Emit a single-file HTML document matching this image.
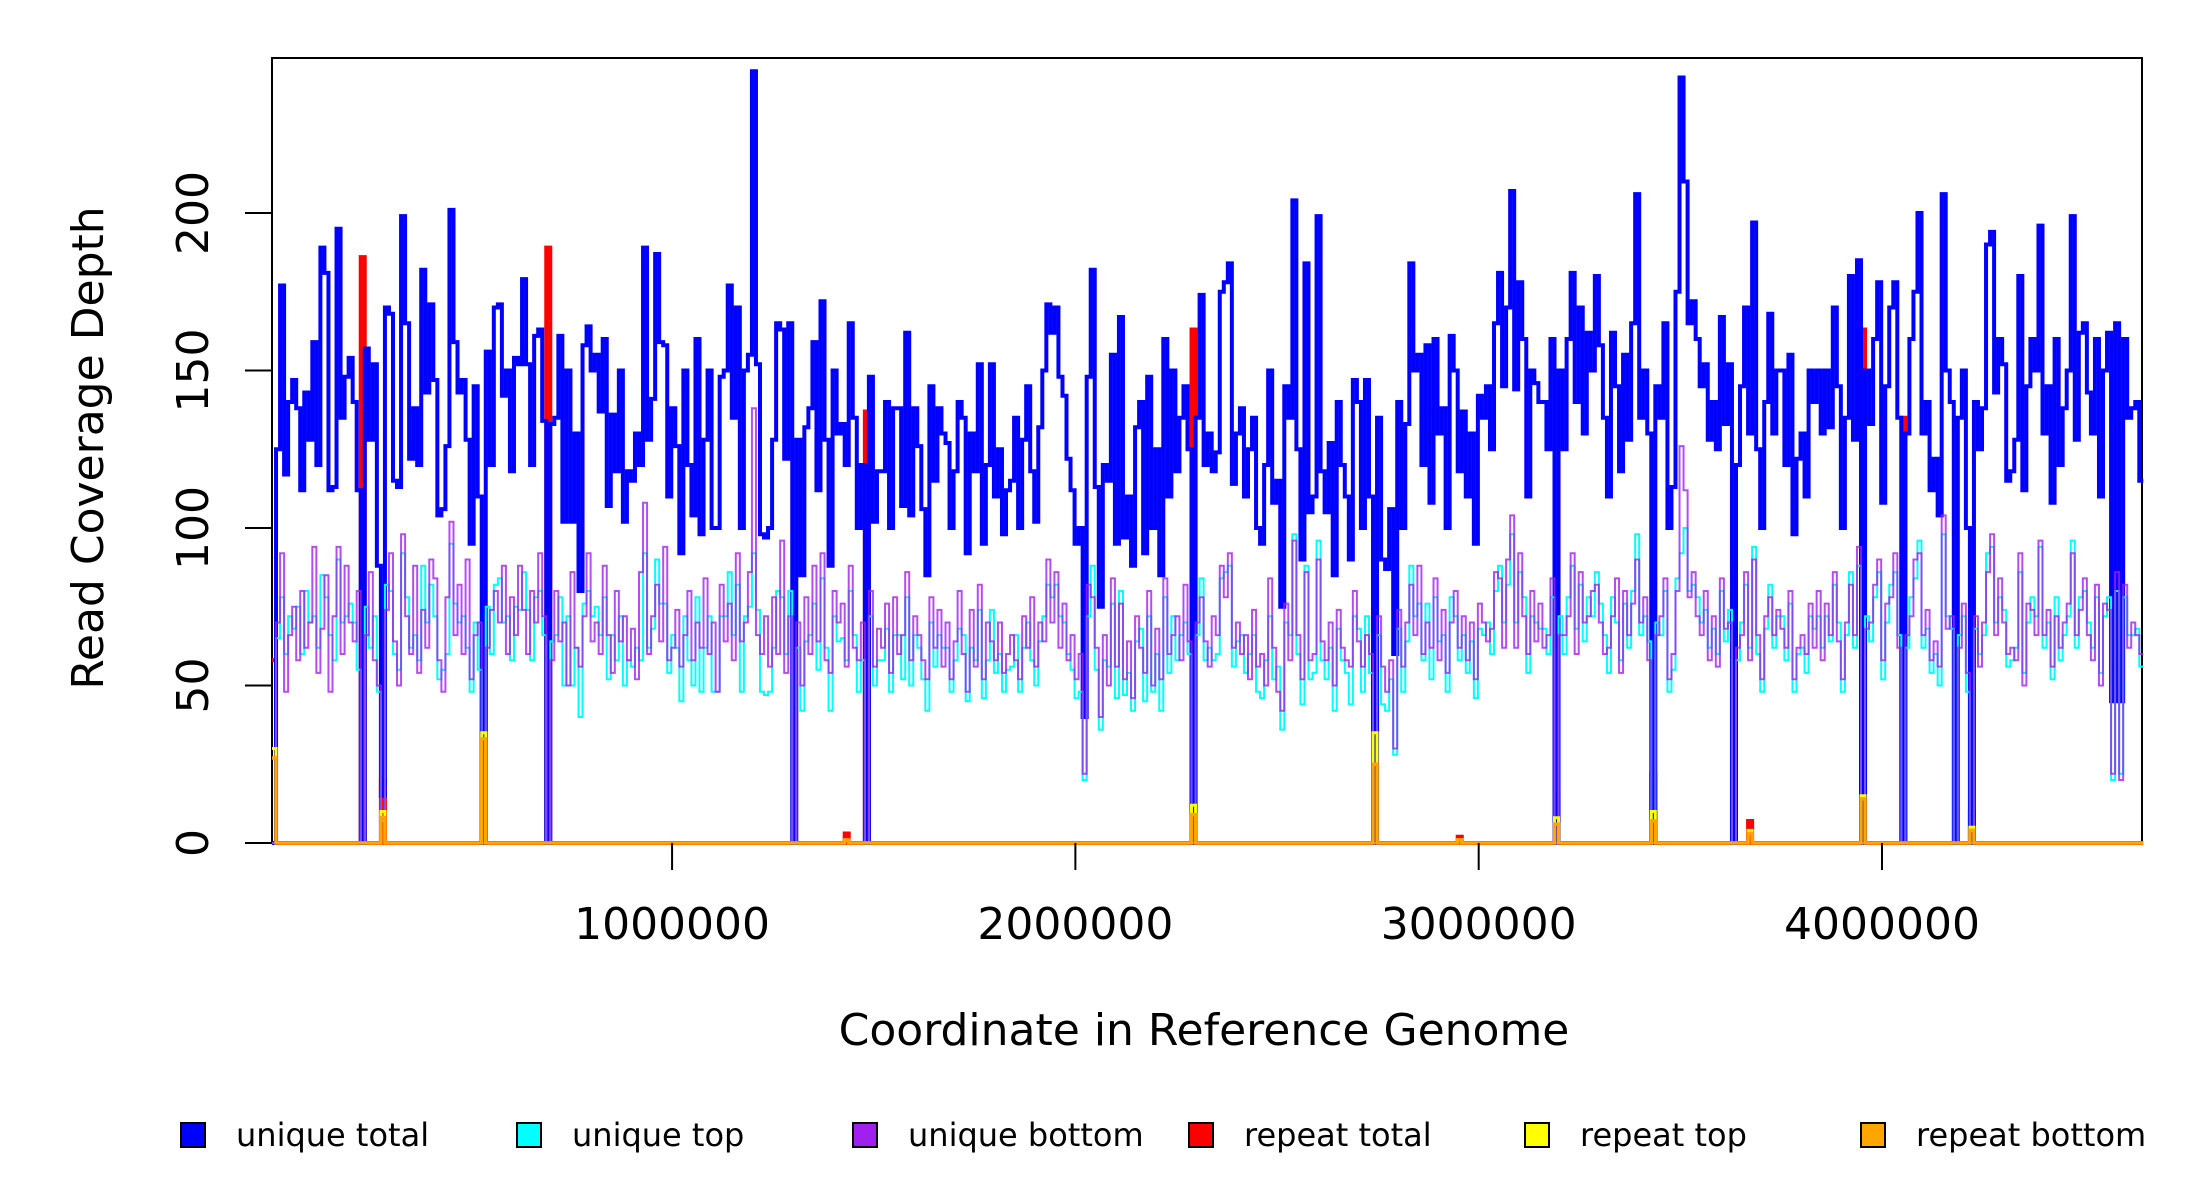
<!DOCTYPE html>
<html><head><meta charset="utf-8"><style>
html,body{margin:0;padding:0;background:#fff;}
svg{display:block;font-family:"DejaVu Sans","Liberation Sans",sans-serif;}
</style></head><body>
<svg id="chart" width="2200" height="1200" viewBox="0 0 2200 1200">
<rect width="2200" height="1200" fill="#fff"/>
<rect x="272" y="58" width="1870" height="785" fill="none" stroke="#000" stroke-width="2"/>
<g id="series"></g>
<g id="axes"></g>
<text x="1204" y="1045" font-size="44" text-anchor="middle">Coordinate in Reference Genome</text>
<text transform="translate(103,448) rotate(-90)" font-size="44" text-anchor="middle">Read Coverage Depth</text>
<g id="legend"></g>
</svg>
<script>
const binSize = 10000;
const binOrigin = 8000;
const uniqueTotal = [
0,125,177,117,140,147,138,112,143,128,159,120,189,181,112,113,195,135,148,154,
140,112,0,157,128,152,88,15,170,168,115,113,199,165,122,138,120,182,143,171,
147,104,106,126,201,159,143,147,128,95,145,110,0,156,120,170,171,142,150,118,
154,152,179,152,120,161,163,134,0,133,135,161,102,150,102,130,80,158,164,150,
155,137,160,107,136,118,150,102,118,115,130,120,189,128,141,187,159,158,110,138,
126,92,150,120,104,160,98,128,150,100,100,148,150,177,135,170,100,150,155,245,
152,98,97,100,128,165,163,122,165,0,128,85,132,138,159,112,172,128,88,150,
130,133,120,165,135,100,120,0,148,102,118,118,140,100,138,138,107,162,104,138,
126,106,85,145,115,138,130,127,100,118,140,135,92,130,118,152,95,120,152,110,
125,98,112,115,135,100,128,145,118,102,132,150,171,162,170,148,142,122,112,95,
100,40,148,182,113,75,120,115,155,95,167,97,110,88,132,140,92,148,100,125,
85,160,110,150,118,135,145,125,0,135,174,120,130,118,124,175,178,184,114,130,
138,110,125,135,100,95,120,150,108,115,75,145,135,204,125,90,184,105,110,199,
118,105,127,85,140,120,110,90,147,140,100,147,110,0,135,90,87,106,60,140,
100,133,184,150,155,120,158,108,160,130,138,100,161,150,118,137,110,130,95,142,
135,145,125,165,181,145,170,207,144,178,160,110,150,146,140,140,125,160,0,150,
125,160,181,140,170,130,162,150,180,158,135,110,162,145,118,155,128,165,206,135,
150,130,0,145,135,165,100,113,175,243,210,165,172,160,145,152,128,140,125,167,
133,152,0,120,145,170,130,197,125,100,140,168,130,150,150,120,155,98,122,130,
110,150,140,150,130,150,132,170,145,100,135,180,128,185,0,150,133,160,178,108,
145,170,178,135,0,130,160,175,200,130,140,112,122,104,206,150,140,0,135,150,
100,0,140,125,138,190,194,143,160,152,115,118,128,180,112,145,160,150,196,130,
145,108,160,120,138,150,199,128,162,165,143,130,160,110,150,162,45,165,45,160,
135,138,140,115];
const uniqueTop = [
0,65,78,60,72,68,75,60,80,70,72,62,85,78,66,58,90,70,72,76,
70,55,0,75,62,72,48,7,82,80,60,55,92,78,62,66,58,88,70,82,
72,52,55,60,95,76,70,72,62,48,70,55,0,75,60,82,84,70,72,58,
75,74,86,74,58,78,80,66,0,64,66,78,50,72,50,62,40,76,80,72,
75,66,78,52,66,58,72,50,58,56,62,58,92,62,68,90,76,76,54,66,
62,45,72,58,50,78,48,62,72,48,48,72,72,86,66,82,48,72,75,92,
74,48,47,48,62,80,78,60,80,0,62,42,64,66,76,55,84,62,42,72,
64,65,58,80,66,48,58,0,72,50,58,58,68,48,66,66,52,78,50,66,
62,52,42,70,56,66,62,62,48,58,68,66,45,62,58,74,46,58,74,54,
60,48,55,56,66,48,62,70,58,50,64,72,82,78,82,72,70,60,55,46,
48,20,72,88,55,36,58,56,76,46,80,47,54,42,64,68,45,72,48,60,
42,78,54,72,58,66,70,60,0,66,84,58,62,58,60,84,86,88,56,64,
66,54,60,66,48,46,58,72,52,56,36,70,66,98,60,44,88,52,54,96,
58,52,62,42,68,58,54,44,72,68,48,72,54,0,66,44,42,52,28,68,
48,64,88,72,76,58,76,52,78,64,66,48,78,72,58,66,54,64,46,68,
66,70,60,80,88,70,82,98,70,86,78,54,72,70,68,68,60,78,0,72,
60,78,88,68,82,64,78,72,86,76,66,54,78,70,58,76,62,80,98,66,
72,64,0,70,66,80,48,55,84,92,100,80,82,78,70,74,62,68,60,80,
64,74,0,58,70,82,62,94,60,48,68,82,62,72,72,58,76,48,60,62,
54,72,68,72,62,72,64,82,70,48,66,86,62,88,0,72,64,78,86,52,
70,82,86,66,0,62,78,84,96,62,68,54,60,50,98,72,68,0,66,72,
48,0,68,60,66,92,94,70,78,74,56,58,62,86,54,70,78,72,94,62,
70,52,78,58,66,72,96,62,78,80,70,62,78,54,72,78,20,80,22,78,
66,66,68,56];
const uniqueBottom = [
0,70,92,48,66,75,58,80,62,70,94,54,68,85,48,72,94,60,88,70,
64,80,0,66,86,58,50,8,74,92,64,50,98,72,60,88,54,74,62,90,
84,58,48,78,102,66,82,60,90,52,66,70,0,62,74,80,70,88,60,78,
66,88,74,60,80,70,92,72,0,58,80,64,70,50,86,62,56,72,92,64,
70,60,88,66,54,80,64,72,58,68,52,86,108,60,72,82,64,94,58,62,
74,56,66,80,58,70,62,84,60,70,48,82,64,76,58,92,64,70,86,138,
66,60,72,56,78,60,96,54,72,0,70,50,78,60,88,64,92,58,54,80,
70,76,56,88,62,58,70,0,80,56,68,62,76,54,78,60,66,86,58,72,
66,58,52,78,62,74,56,70,52,64,80,60,48,74,56,82,52,70,64,58,
70,54,60,66,58,52,72,62,78,56,70,64,90,70,86,62,76,58,66,52,
60,22,82,78,62,40,66,50,84,56,76,52,64,46,72,62,54,80,50,68,
52,84,60,66,72,58,82,64,0,70,78,64,56,72,66,88,78,92,62,70,
60,66,52,74,56,60,50,84,62,48,42,76,58,96,66,52,86,58,60,90,
64,58,70,50,74,62,58,56,80,64,56,66,60,0,72,56,48,58,30,74,
56,70,82,66,88,60,70,62,84,58,74,54,70,80,62,72,58,70,52,76,
70,64,68,86,84,62,90,104,62,92,72,60,80,64,76,62,66,84,0,66,
66,72,92,60,86,70,72,80,82,70,60,62,72,84,54,80,66,76,90,70,
78,58,0,66,72,84,52,60,80,126,112,78,86,72,66,80,58,72,56,84,
68,70,0,62,66,86,58,90,66,52,72,78,66,74,68,62,80,52,62,66,
60,76,62,80,58,76,66,86,64,52,70,82,66,94,0,68,70,82,90,58,
76,78,92,62,0,66,72,90,92,66,74,58,64,56,104,68,72,0,62,76,
54,0,72,56,70,86,98,66,84,70,60,62,58,92,50,76,74,66,96,66,
74,56,72,62,70,76,92,66,74,84,66,58,82,50,76,74,22,86,20,82,
62,70,66,60];
const repeatBins   = [0, 22, 27, 52, 68, 142, 147, 228, 273, 294, 318, 342, 366, 394, 404, 421];
const repeatTotal  = [58,186,20, 70,189, 3, 137, 163, 60, 2, 15, 22, 7, 163, 135, 10];
const repeatTop    = [30, 0, 10, 35, 0, 1, 0, 12, 35, 1, 8, 10, 4, 15, 0, 5];
const repeatBottom = [27, 0, 8, 33, 0, 1, 0, 9, 25, 1, 6, 7, 3, 14, 0, 4];
const yTicks = [0, 50, 100, 150, 200];
const xTicks = [1000000, 2000000, 3000000, 4000000];
const xTickLabels = ["1000000", "2000000", "3000000", "4000000"];
const legendLabels = ["unique total", "unique top", "unique bottom", "repeat total", "repeat top", "repeat bottom"];
const legendColors = ["#0000ff", "#00ffff", "#a020f0", "#ff0000", "#ffff00", "#ffa500"];

const NS = "http://www.w3.org/2000/svg";
const PL = 272, PR = 2142, PT = 58, PB = 843;
const xMin = 8000, xMax = 4644700, yMin = 0, yMax = 200;
function xs(v){ return PL + (v - xMin) / (xMax - xMin) * (PR - PL); }
function ys(v){ return PB - (v - yMin) / (yMax - yMin) * (PB - 213); }
function mk(tag, attrs, parent){ const e = document.createElementNS(NS, tag); for (const k in attrs) e.setAttribute(k, attrs[k]); parent.appendChild(e); return e; }

function expand(bins, vals, n){ const a = new Array(n).fill(0); bins.forEach((b, i) => { a[b] = vals[i]; }); return a; }
function stepPath(vals){
  let d = "";
  for (let i = 0; i < vals.length; i++){
    const x0 = xs(binOrigin + i * binSize).toFixed(2), x1 = xs(binOrigin + (i + 1) * binSize).toFixed(2), y = ys(vals[i]).toFixed(2);
    d += (i === 0 ? "M" + x0 + "," + y : "V" + y) + "H" + x1;
  }
  return d;
}
const n = uniqueTotal.length;
const seriesG = document.getElementById("series");
const layers = [
  ["repeat-total-line", expand(repeatBins, repeatTotal, n), "#ff0000", 4, 1],
  ["unique-total-line", uniqueTotal, "#0000ff", 4, 1],
  ["unique-top-line", uniqueTop, "#00ffff", 2, 1],
  ["unique-bottom-line", uniqueBottom, "#a020f0", 2, 0.8],
  ["repeat-top-line", expand(repeatBins, repeatTop, n), "#ffff00", 3, 1],
  ["repeat-bottom-line", expand(repeatBins, repeatBottom, n), "#ffa500", 3.5, 1]
];
layers.forEach(l => {
  const p = mk("path", {d: stepPath(l[1]), fill: "none", stroke: l[2], "stroke-width": l[3], "stroke-opacity": l[4], "stroke-linejoin": "miter"}, seriesG);
  
  
});

const axesG = document.getElementById("axes");
yTicks.forEach(v => {
  const t = mk("line", {x1: 245, x2: 272, y1: ys(v), y2: ys(v), stroke: "#000", "stroke-width": 2}, axesG);
  
  
  const tx = mk("text", {transform: "translate(208," + ys(v) + ") rotate(-90)", "font-size": 44, "text-anchor": "middle"}, axesG);
  tx.textContent = String(v);
  
  
});
xTicks.forEach((v, i) => {
  const t = mk("line", {x1: xs(v), x2: xs(v), y1: 843, y2: 870, stroke: "#000", "stroke-width": 2}, axesG);
  
  
  const tx = mk("text", {x: xs(v), y: 939, "font-size": 44, "text-anchor": "middle"}, axesG);
  tx.textContent = xTickLabels[i];
  
  
});

const legG = document.getElementById("legend");
legendLabels.forEach((lab, i) => {
  const g = mk("g", {}, legG);
  
  
  const x = 181 + i * 336;
  const r = mk("rect", {x: x, y: 1123, width: 24, height: 24, fill: legendColors[i], stroke: "#000", "stroke-width": 2}, g);
  
  
  const t = mk("text", {x: x + 55, y: 1146, "font-size": 32}, g);
  t.textContent = lab;
  
  
});
</script>
</body></html>
